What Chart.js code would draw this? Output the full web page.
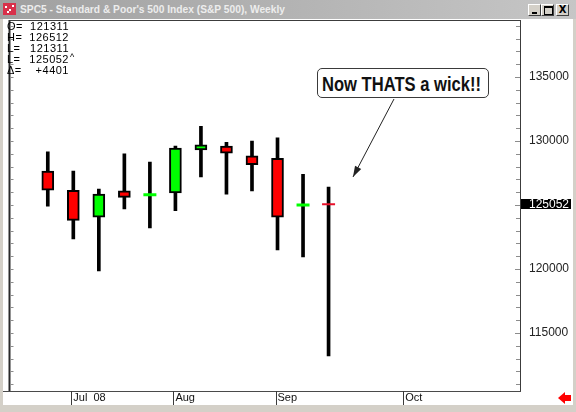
<!DOCTYPE html>
<html><head><meta charset="utf-8">
<script src="https://cdn.jsdelivr.net/npm/chart.js@4.4.1/dist/chart.umd.min.js"></script>
<style>
html,body{margin:0;padding:0;}
body{width:576px;height:412px;position:relative;overflow:hidden;background:#d4d0c8;font-family:"Liberation Sans",Arial,sans-serif;}
#titlebar{position:absolute;left:0;top:0;width:576px;height:19px;background:linear-gradient(to right,#a0a0a0,#c6c6c6);}
#icon{position:absolute;left:3px;top:3px;width:13px;height:12px;background:#d8304a;}
#icon i{position:absolute;width:2px;height:2px;background:#fff;}
#title{position:absolute;left:20px;top:3px;font-size:11px;font-weight:bold;color:#ededed;white-space:nowrap;transform-origin:0 0;display:inline-block;line-height:13px;}
.btn{position:absolute;top:4px;width:13px;height:12px;background:#d4d0c8;border:1px solid;border-color:#fff #404040 #404040 #fff;box-sizing:border-box;}
#client{position:absolute;left:3px;top:19px;width:570px;height:386px;background:#fff;}
#chartwrap{position:absolute;left:0;top:0;width:576px;height:412px;}
#ohlc{position:absolute;left:7px;top:20px;font-size:11px;letter-spacing:0.5px;color:#000;}
.row{height:11px;line-height:12px;white-space:nowrap;position:relative;}
.row .k{position:absolute;left:0;}
.row .v{position:absolute;left:20px;width:42px;text-align:right;}
.row .s{position:absolute;left:63px;top:-2px;font-size:9px;}
#note{position:absolute;left:317px;top:68px;width:172px;height:30px;box-sizing:border-box;border:1px solid #3a3a3a;border-radius:5px;background:#fff;}
#notetext{position:absolute;left:4px;top:3px;font-family:"Liberation Sans Narrow","Liberation Sans",Arial,sans-serif;font-weight:bold;font-size:21px;line-height:24px;color:#111;white-space:nowrap;display:inline-block;transform-origin:0 50%;}
</style></head>
<body>
<div id="client"></div>
<div id="chartwrap"><canvas id="c" width="576" height="412"></canvas></div>
<div id="titlebar">
  <div id="icon"><i style="left:2px;top:3px"></i><i style="left:6px;top:6px"></i><i style="left:9px;top:2px"></i><i style="left:4px;top:8px"></i></div>
  <span id="title">SPC5 - Standard &amp; Poor's 500 Index (S&amp;P 500), Weekly</span>
  <div class="btn" style="left:528px"><div style="position:absolute;left:3px;top:7px;width:5px;height:2px;background:#000"></div></div>
  <div class="btn" style="left:541px"><div style="position:absolute;left:2px;top:1px;width:7px;height:6px;border:1px solid #000;border-top-width:2px"></div></div>
  <div class="btn" style="left:556px;font:bold 10px 'DejaVu Sans',sans-serif;text-align:center;line-height:10px;color:#000">X</div>
</div>
<div id="ohlc">
  <div class="row"><span class="k">O=</span><span class="v">121311</span></div>
  <div class="row"><span class="k">H=</span><span class="v">126512</span></div>
  <div class="row"><span class="k">L=</span><span class="v">121311</span></div>
  <div class="row"><span class="k">L=</span><span class="v">125052</span><span class="s">^</span></div>
  <div class="row"><span class="k">Δ=</span><span class="v">+4401</span></div>
</div>
<div id="note"><span id="notetext">Now THATS a wick!!</span></div>
<script>
// ---- data ----
const weeks = ['Jun 23','Jun 30','Jul 07','Jul 14','Jul 21','Jul 28','Aug 04','Aug 11','Aug 18','Aug 25',
               'Sep 01','Sep 08','Sep 15','Sep 22','Sep 29','Oct 06','Oct 13','Oct 20','Oct 27','Nov 03'];
const opens  = [null,127650,126150,124050,126100,125750,125950,129300,129600,128850,128650,124900,125150,null,null,null,null,null,null,null];
const highs  = [null,129150,127650,126250,129000,128350,129600,131150,129900,130000,130250,127400,126400,null,null,null,null,null,null,null];
const lows   = [null,124900,122350,119850,124700,123200,124550,127200,125850,126100,121500,120950,113200,null,null,null,null,null,null,null];
const closes = [null,126150,123800,125850,125600,125800,129450,129700,129050,128150,124050,125000,125052,null,null,null,null,null,null,null];
const tickWeeks  = ['Jul 07','Aug 04','Sep 01','Oct 06'];
const tickLabels = ['Jul  08','Aug','Sep','Oct'];
const lastClose = 125052;
const yMin = 110469, yMax = 139375;
const yMinorStep = 1000, yLabelStep = 5000;

const isDoji = i => opens[i] != null && Math.abs(closes[i] - opens[i]) < 200;
const upColor = '#00ff00', downColor = '#ff0000';

const wickData = weeks.map((_, i) => highs[i] == null ? null : [lows[i], highs[i]]);
const bodyData = weeks.map((_, i) => (opens[i] == null || isDoji(i)) ? null : [opens[i], closes[i]]);
const bodyColors = weeks.map((_, i) => (closes[i] >= opens[i]) ? upColor : downColor);
const dojiData = weeks.map((_, i) => isDoji(i) ? closes[i] : null);
const dojiColors = weeks.map((_, i) => (closes[i] >= opens[i]) ? upColor : '#e8102a');
const dojiWidths = weeks.map((_, i) => (closes[i] >= opens[i]) ? 3 : 2);

const frame = {
  id: 'frame',
  afterDraw(chart) {
    const {ctx, chartArea: a, scales: {x, y}} = chart;
    ctx.save();
    // plot frame
    ctx.fillStyle = '#2a2a2a';
    ctx.fillRect(a.left - 1, a.top - 1, 2, a.bottom - a.top + 1);
    ctx.fillStyle = '#3c3c3c';
    ctx.fillRect(a.left, a.top - 1, a.right - a.left + 1, 1);
    ctx.fillRect(a.right, a.top - 1, 1, a.bottom - a.top + 1);
    ctx.fillStyle = '#4a4a4a';
    ctx.fillRect(3, a.bottom, a.right - 2, 1);
    // minor ticks on both frame sides
    ctx.fillStyle = '#8c8c8c';
    y.ticks.forEach(t => {
      const v = Math.round(t.value);
      const py = Math.round(y.getPixelForValue(v));
      const len = v % yLabelStep === 0 ? 5 : 4;
      ctx.fillRect(a.right - len, py, len, 1);
      ctx.fillRect(a.left + 1, py, 3, 1);
    });
    // month tick marks
    ctx.fillStyle = '#3a3a3a';
    tickWeeks.forEach(w => {
      const px = Math.round(x.getPixelForValue(weeks.indexOf(w)));
      ctx.fillRect(px - 2, a.bottom, 1, 14);
    });
    // last price marker
    const ly = y.getPixelForValue(lastClose);
    ctx.fillStyle = '#000';
    ctx.fillRect(a.right + 1, Math.round(ly) - 5, 50, 10);
    ctx.fillStyle = '#fff';
    ctx.font = '12px "Liberation Sans", Arial, sans-serif';
    ctx.textBaseline = 'middle';
    ctx.textAlign = 'left';
    ctx.fillText(String(lastClose), a.right + 9, Math.round(ly) + 0.5);
    // annotation arrow
    const x0 = 394, y0 = 99, x1 = 353, y1 = 177;
    ctx.strokeStyle = '#222'; ctx.lineWidth = 1;
    ctx.beginPath(); ctx.moveTo(x0, y0); ctx.lineTo(x1, y1); ctx.stroke();
    const ang = Math.atan2(y1 - y0, x1 - x0), L = 11, W = 3.5;
    const bx = x1 - L * Math.cos(ang), by = y1 - L * Math.sin(ang);
    ctx.fillStyle = '#222';
    ctx.beginPath();
    ctx.moveTo(x1, y1);
    ctx.lineTo(bx + W * Math.sin(ang), by - W * Math.cos(ang));
    ctx.lineTo(bx - W * Math.sin(ang), by + W * Math.cos(ang));
    ctx.closePath(); ctx.fill();
    // red scroll arrow (bottom right)
    ctx.fillStyle = '#ff0000';
    ctx.beginPath();
    ctx.moveTo(558, 398); ctx.lineTo(565, 392); ctx.lineTo(565, 404); ctx.closePath(); ctx.fill();
    ctx.fillRect(564, 395, 7, 6);
    ctx.restore();
  }
};

new Chart(document.getElementById('c'), {
  type: 'bar',
  data: {
    labels: weeks,
    datasets: [
      { type: 'bar', data: wickData, backgroundColor: '#000', barThickness: 3, grouped: false, order: 3, borderWidth: 0 },
      { type: 'bar', data: bodyData, backgroundColor: bodyColors, borderColor: '#000', borderWidth: 2,
        borderSkipped: false, barThickness: 12, grouped: false, order: 2 },
      { type: 'line', data: dojiData, showLine: false, pointStyle: 'line', pointRadius: 6.5,
        pointBorderColor: dojiColors, pointBorderWidth: dojiWidths, pointBackgroundColor: dojiColors, order: 1 }
    ]
  },
  options: {
    responsive: false,
    animation: false,
    layout: { padding: { left: 5, right: 3, top: 21, bottom: 7 } },
    plugins: { legend: { display: false }, tooltip: { enabled: false } },
    scales: {
      x: {
        type: 'category', offset: true,
        grid: { display: false, drawTicks: false },
        border: { display: false },
        ticks: {
          autoSkip: false, maxRotation: 0, minRotation: 0, align: 'start', padding: 0,
          color: '#111', font: { family: '"Liberation Sans", Arial, sans-serif', size: 11 },
          callback: (v, i) => { const m = tickWeeks.indexOf(weeks[i]); return m >= 0 ? tickLabels[m] : ''; }
        },
        afterFit: s => { s.height = 14; }
      },
      y: {
        position: 'right', min: yMin, max: yMax,
        grid: { drawOnChartArea: false, drawTicks: false },
        border: { display: false },
        afterBuildTicks: s => {
          const t = [];
          for (let v = Math.ceil(yMin / yMinorStep) * yMinorStep; v <= yMax; v += yMinorStep) t.push({ value: v });
          s.ticks = t;
        },
        ticks: {
          autoSkip: false, padding: 9, color: '#222',
          font: { family: '"Liberation Sans", Arial, sans-serif', size: 12 },
          callback: v => (Math.round(v) % yLabelStep === 0 ? String(Math.round(v)) : '')
        },
        afterFit: s => { s.width = 53; }
      }
    }
  },
  plugins: [frame]
});

function fit(id, target) {
  const el = document.getElementById(id);
  const w = el.getBoundingClientRect().width;
  if (w > 0) el.style.transform = 'scaleX(' + (target / w) + ')';
}
fit('title', 265);
fit('notetext', 159);
</script>
</body></html>
